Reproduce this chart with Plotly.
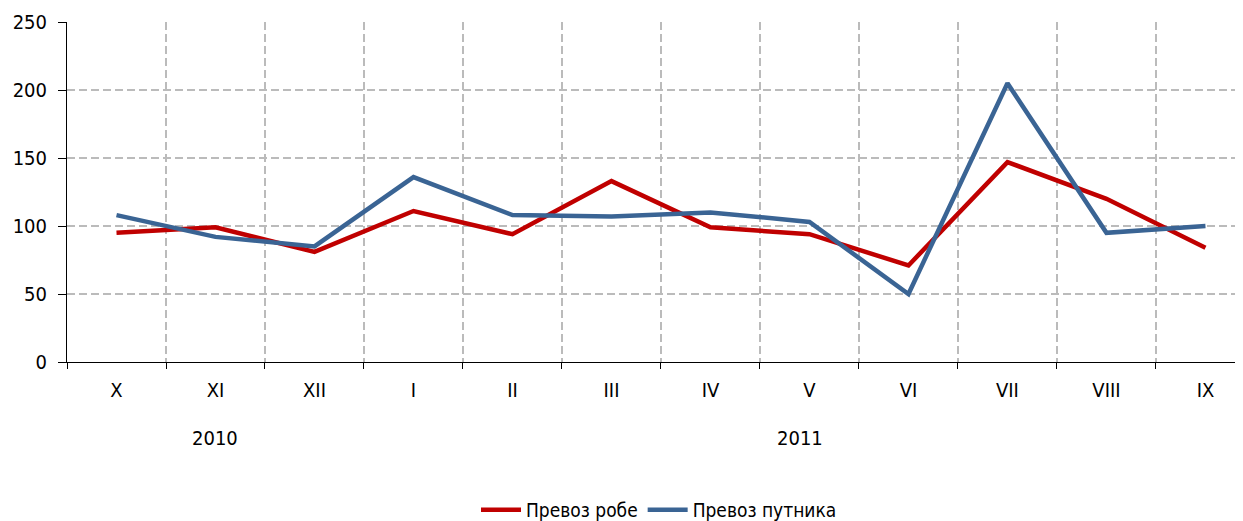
import plotly.graph_objects as go

months = ["X", "XI", "XII", "I", "II", "III", "IV", "V", "VI", "VII", "VIII", "IX"]
goods = [95, 99, 81, 111, 94, 133, 99, 94, 71, 147, 120, 84]
passengers = [108, 92, 85, 136, 108, 107, 110, 103, 50, 205, 95, 100]
years = ["2010", "2011"]
year_pos = [1, 6.9]

FONT = "Tahoma, 'DejaVu Sans Condensed', 'DejaVu Sans', sans-serif"

fig = go.Figure()
fig.add_trace(go.Scatter(x=months, y=goods, mode="lines", name="Превоз робе",
                         line=dict(color="#C00000", width=4.5)))
fig.add_trace(go.Scatter(x=months, y=passengers, mode="lines", name="Превоз путника",
                         line=dict(color="#3A6494", width=4.5)))

for yr, pos in zip(years, year_pos):
    fig.add_annotation(x=pos, xref="x", y=-0.2235, yref="paper", text=yr,
                       showarrow=False, yanchor="middle",
                       font=dict(family=FONT, size=20, color="#000000"))

# page body has an 8px margin, so margins are reduced by 8px
fig.update_layout(
    width=1243, height=521,
    margin=dict(l=59, r=0, t=14, b=167),
    plot_bgcolor="white", paper_bgcolor="white",
    font=dict(family=FONT, size=20, color="#000000"),
    showlegend=True,
    legend=dict(orientation="h", x=0.5, xanchor="center", y=-0.435, yanchor="middle",
                font=dict(family=FONT, size=19), itemwidth=40),
    xaxis=dict(type="category", range=[-0.5, 11.46], tickson="boundaries",
               automargin=False,
               showgrid=True, gridcolor="#BBBBBB", gridwidth=2, griddash="8px,4px",
               showline=True, linecolor="#000000", linewidth=1,
               ticks="outside", ticklen=6, tickcolor="#000000",
               ticklabelstandoff=10,
               tickfont=dict(family=FONT, size=20), fixedrange=True),
    yaxis=dict(range=[0, 250], dtick=50, showgrid=True, gridcolor="#BBBBBB",
               automargin=False,
               gridwidth=2, griddash="8px,4px",
               showline=True, linecolor="#000000", linewidth=1,
               ticks="outside", ticklen=8, tickcolor="#000000",
               ticklabelstandoff=7,
               zeroline=False, tickfont=dict(family=FONT, size=20)),
)

fig.write_html("out.html")
